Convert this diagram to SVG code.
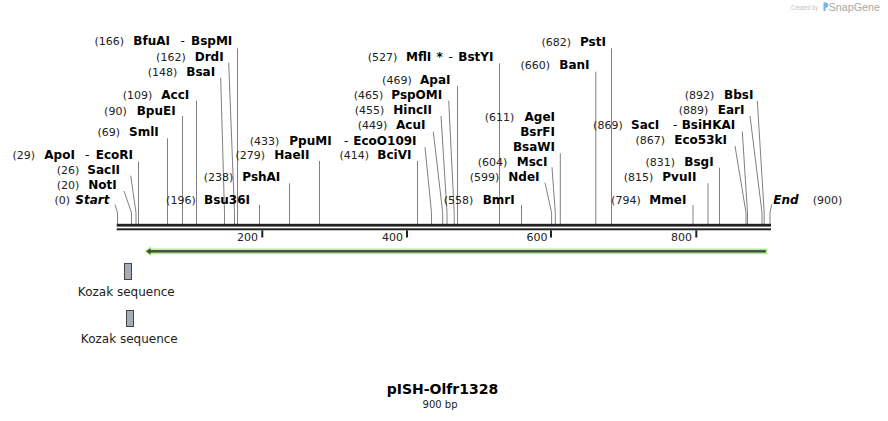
<svg xmlns="http://www.w3.org/2000/svg" width="888" height="421" viewBox="0 0 888 421">
<style>
.num{font-family:"DejaVu Sans",Verdana,sans-serif;font-size:11px;fill:#222;text-anchor:end}
.nm{font-family:"DejaVu Sans",Verdana,sans-serif;font-size:12px;font-weight:bold;fill:#000}
.sep{font-family:"DejaVu Sans",Verdana,sans-serif;font-size:12px;fill:#000}
.it{font-style:italic}
.ln{stroke:#808080;stroke-width:1;fill:none}
.tick{fill:#222}
.tl{font-family:"DejaVu Sans",Verdana,sans-serif;font-size:11px;fill:#222;text-anchor:end}
.feat{font-family:"DejaVu Sans",Verdana,sans-serif;font-size:12px;fill:#222;text-anchor:middle}
.koz{fill:#a6abb3;stroke:#444;stroke-width:1}
</style>
<rect width="888" height="421" fill="#fff"/>

<g id="watermark">
<text x="791" y="10" font-family="Liberation Sans,Arial,sans-serif" font-size="7.5" fill="#c4c4c4" textLength="27" lengthAdjust="spacingAndGlyphs">Created by</text>
<path d="M823.5,2.5 h2.2 a2.6,2.6 0 0 1 0,5.2 h-0.2 v3.3 h-2 z" fill="#6cb6f0"/>
<text x="828.5" y="10.5" font-family="Liberation Sans,Arial,sans-serif" font-size="10.5" fill="#a8a8a8" textLength="51.5" lengthAdjust="spacingAndGlyphs">SnapGene</text>
</g>

<g id="connectors">
<path class="ln" d="M115,204.5 L117.5,212.7 V224"/>
<path class="ln" d="M124,191 L131.5,212.7 V224"/>
<path class="ln" d="M130.7,175.7 L136,212.7 V224"/>
<path class="ln" d="M138.5,161.7 V224"/>
<path class="ln" d="M167.5,138.3 V224"/>
<path class="ln" d="M182.5,116 V224"/>
<path class="ln" d="M196.5,100.7 V224"/>
<path class="ln" d="M220.7,77.7 L224.5,212.7 V224"/>
<path class="ln" d="M228.7,62.7 L234.5,212.7 V224"/>
<path class="ln" d="M237.5,48.3 V224"/>
<path class="ln" d="M259.5,205 V224"/>
<path class="ln" d="M289.5,183.3 V224"/>
<path class="ln" d="M319.5,161 V224"/>
<path class="ln" d="M425,147.3 L431.5,212.7 V224"/>
<path class="ln" d="M417.5,161 V224"/>
<path class="ln" d="M433.3,131.7 L442.7,212.7 V224"/>
<path class="ln" d="M441,116 L447,212.7 V224"/>
<path class="ln" d="M448.7,100.7 L454.2,212.7 V224"/>
<path class="ln" d="M457.5,86 V224"/>
<path class="ln" d="M499.5,63.3 V224"/>
<path class="ln" d="M521.5,205 V224"/>
<path class="ln" d="M545,182.7 L551.6,212.7 V224"/>
<path class="ln" d="M552,167.3 L555.3,212.7 V224"/>
<path class="ln" d="M560.3,153.3 V224"/>
<path class="ln" d="M595.8,71.7 V224"/>
<path class="ln" d="M611.5,48.3 V224"/>
<path class="ln" d="M693,205 V224"/>
<path class="ln" d="M708,183.3 V224"/>
<path class="ln" d="M719.5,167.7 V224"/>
<path class="ln" d="M735,146 L746,212.7 V224"/>
<path class="ln" d="M742.3,131.7 L747.5,212.7 V224"/>
<path class="ln" d="M750,116 L762,212.7 V224"/>
<path class="ln" d="M757.3,100.7 L764.2,212.7 V224"/>
<path class="ln" d="M771.7,204.5 L770,212.7 V224"/>
</g>

<g id="backbone">
<rect x="116.7" y="223.8" width="654.3" height="2.8" fill="#222"/>
<rect x="116.7" y="228.3" width="654.3" height="2" fill="#222"/>
<rect class="tick" x="261.3" y="230.3" width="2" height="7.2"/>
<rect class="tick" x="406" y="230.3" width="2" height="7.2"/>
<rect class="tick" x="550" y="230.3" width="2" height="7.2"/>
<rect class="tick" x="695.3" y="230.3" width="2" height="7.2"/>
<text class="tl" x="258" y="240.5">200</text>
<text class="tl" x="403" y="240.5">400</text>
<text class="tl" x="547.5" y="240.5">600</text>
<text class="tl" x="692" y="240.5">800</text>
</g>

<g id="feature-arrow">
<path d="M144.3,251.3 L151,246.3 V248.6 H767.5 V254.3 H151 V256.3 Z" fill="#b8f080"/>
<rect x="149" y="250.1" width="616.8" height="2.4" fill="#454545"/>
<path d="M146.2,251.3 L150.5,248.2 V254.4 Z" fill="#454545"/>
</g>

<g id="kozak1">
<rect class="koz" x="124.5" y="263.5" width="7" height="16"/>
<text class="feat" x="126.3" y="296">Kozak sequence</text>
</g>
<g id="kozak2">
<rect class="koz" x="126.5" y="310.5" width="7" height="16"/>
<text class="feat" x="129.3" y="343">Kozak sequence</text>
</g>

<g id="title">
<text x="442.5" y="394" text-anchor="middle" font-family="DejaVu Sans,Verdana,sans-serif" font-size="14" font-weight="bold" fill="#000">pISH-Olfr1328</text>
<text x="440" y="407.5" text-anchor="middle" font-family="DejaVu Sans,Verdana,sans-serif" font-size="10" fill="#222">900 bp</text>
</g>

<g id="start"><text class="num" x="70" y="203.5">(0)</text><text class="nm it" x="75.3" y="203.5">Start</text></g>
<g id="notI"><text class="num" x="79.3" y="189">(20)</text><text class="nm" x="88.3" y="189">NotI</text></g>
<g id="sacII"><text class="num" x="79.3" y="173.5">(26)</text><text class="nm" x="87.3" y="173.5">SacII</text></g>
<g id="apoI"><text class="num" x="35" y="159">(29)</text><text class="nm" x="44.3" y="159">ApoI</text><text class="sep" x="85" y="159">-</text><text class="nm" x="95.7" y="159">EcoRI</text></g>
<g id="smlI"><text class="num" x="120" y="136.3">(69)</text><text class="nm" x="129" y="136.3">SmlI</text></g>
<g id="bpuEI"><text class="num" x="126.7" y="114.5">(90)</text><text class="nm" x="136.7" y="114.5">BpuEI</text></g>
<g id="accI"><text class="num" x="152.3" y="99">(109)</text><text class="nm" x="161.3" y="99">AccI</text></g>
<g id="bsaI"><text class="num" x="177.3" y="76.3">(148)</text><text class="nm" x="186.3" y="76.3">BsaI</text></g>
<g id="drdI"><text class="num" x="185.7" y="60.5">(162)</text><text class="nm" x="194.7" y="60.5">DrdI</text></g>
<g id="bfuAI"><text class="num" x="124" y="45.3">(166)</text><text class="nm" x="133.3" y="45.3">BfuAI</text><text class="sep" x="180.5" y="45.3">-</text><text class="nm" x="191" y="45.3">BspMI</text></g>
<g id="bsu36I"><text class="num" x="195.7" y="203.5">(196)</text><text class="nm" x="204" y="203.5">Bsu36I</text></g>
<g id="pshAI"><text class="num" x="233.3" y="181.3">(238)</text><text class="nm" x="242.3" y="181.3">PshAI</text></g>
<g id="haeII"><text class="num" x="265" y="159">(279)</text><text class="nm" x="274.3" y="159">HaeII</text></g>
<g id="ppuMI"><text class="num" x="279.3" y="144.5">(433)</text><text class="nm" x="289.3" y="144.5">PpuMI</text><text class="sep" x="344" y="144.5">-</text><text class="nm" x="353.3" y="144.5">EcoO109I</text></g>
<g id="bciVI"><text class="num" x="369" y="159">(414)</text><text class="nm" x="377.3" y="159">BciVI</text></g>
<g id="acuI"><text class="num" x="387.3" y="129">(449)</text><text class="nm" x="396" y="129">AcuI</text></g>
<g id="hincII"><text class="num" x="384.3" y="114">(455)</text><text class="nm" x="393.3" y="114">HincII</text></g>
<g id="pspOMI"><text class="num" x="383.3" y="99">(465)</text><text class="nm" x="391.3" y="99">PspOMI</text></g>
<g id="apaI"><text class="num" x="411.7" y="84">(469)</text><text class="nm" x="420" y="84">ApaI</text></g>
<g id="mflI"><text class="num" x="397.3" y="61.3">(527)</text><text class="nm" x="406" y="61.3">MflI</text><text class="nm" x="436.5" y="61.3">*</text><text class="sep" x="448.5" y="61.3">-</text><text class="nm" x="458.3" y="61.3">BstYI</text></g>
<g id="bmrI"><text class="num" x="473.3" y="203.5">(558)</text><text class="nm" x="482.7" y="203.5">BmrI</text></g>
<g id="ndeI"><text class="num" x="499.3" y="180.5">(599)</text><text class="nm" x="508.3" y="180.5">NdeI</text></g>
<g id="mscI"><text class="num" x="507.3" y="165.5">(604)</text><text class="nm" x="516.7" y="165.5">MscI</text></g>
<g id="ageI"><text class="num" x="514.3" y="120.7">(611)</text><text class="nm" x="555" y="120.7" text-anchor="end">AgeI</text><text class="nm" x="555" y="135.7" text-anchor="end">BsrFI</text><text class="nm" x="555" y="150.7" text-anchor="end">BsaWI</text></g>
<g id="banI"><text class="num" x="550" y="69">(660)</text><text class="nm" x="559.3" y="69">BanI</text></g>
<g id="pstI"><text class="num" x="571" y="46.3">(682)</text><text class="nm" x="580" y="46.3">PstI</text></g>
<g id="mmeI"><text class="num" x="640.7" y="203.5">(794)</text><text class="nm" x="649.3" y="203.5">MmeI</text></g>
<g id="pvuII"><text class="num" x="653.3" y="181.3">(815)</text><text class="nm" x="662.3" y="181.3">PvuII</text></g>
<g id="bsgI"><text class="num" x="675" y="166.3">(831)</text><text class="nm" x="684.3" y="166.3">BsgI</text></g>
<g id="eco53kI"><text class="num" x="665" y="144">(867)</text><text class="nm" x="674.3" y="144">Eco53kI</text></g>
<g id="sacI"><text class="num" x="622.7" y="129">(869)</text><text class="nm" x="631" y="129">SacI</text><text class="sep" x="673" y="129">-</text><text class="nm" x="681.7" y="129">BsiHKAI</text></g>
<g id="earI"><text class="num" x="708.3" y="114">(889)</text><text class="nm" x="717.7" y="114">EarI</text></g>
<g id="bbsI"><text class="num" x="714.3" y="99">(892)</text><text class="nm" x="724" y="99">BbsI</text></g>
<g id="end"><text class="nm it" x="773.3" y="203.5">End</text><text class="num" x="842.3" y="203.5">(900)</text></g>
</svg>
